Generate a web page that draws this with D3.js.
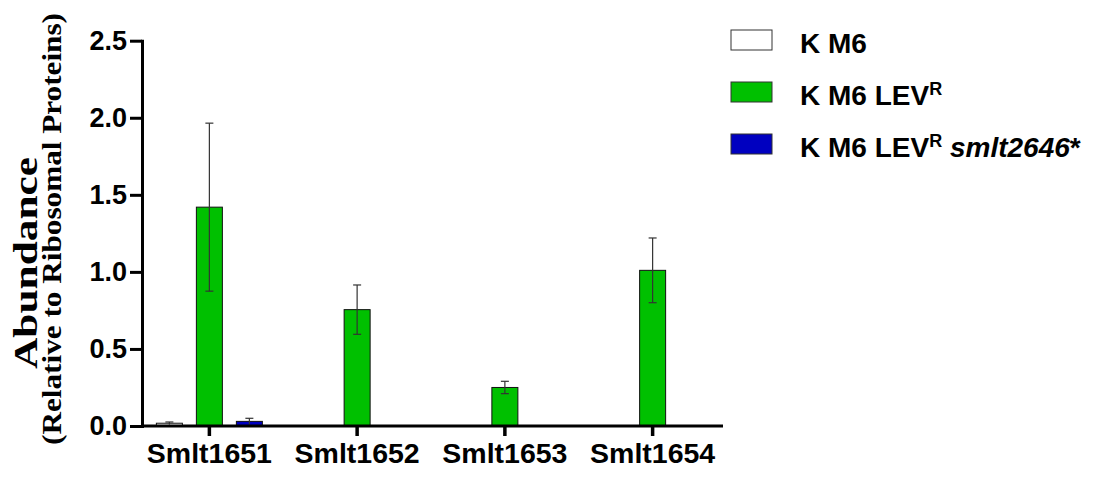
<!DOCTYPE html>
<html>
<head>
<meta charset="utf-8">
<script src="https://cdn.jsdelivr.net/npm/d3@7/dist/d3.min.js"></script>
<style>
  body { margin: 0; background: #fff; }
  svg { display: block; }
</style>
</head>
<body>
<svg id="chart" width="1100" height="477"></svg>
<script>
// ---- data ----
const categories = ["Smlt1651", "Smlt1652", "Smlt1653", "Smlt1654"];
const seriesNames = ["K M6", "K M6 LEVR", "K M6 LEVR smlt2646*"];
const kM6 = [0.018, 0, 0, 0];
const kM6Err = [0.008, 0, 0, 0];
const kM6Lev = [1.42, 0.755, 0.25, 1.01];
const kM6LevErr = [0.545, 0.16, 0.04, 0.21];
const kM6LevSmlt = [0.03, 0, 0, 0];
const kM6LevSmltErr = [0.02, 0, 0, 0];
const yTicks = [0, 0.5, 1.0, 1.5, 2.0, 2.5];
const yTickLabels = ["0.0", "0.5", "1.0", "1.5", "2.0", "2.5"];

const colors = ["#ffffff", "#00c000", "#0000c0"];
const seriesValues = [kM6, kM6Lev, kM6LevSmlt];
const seriesErrors = [kM6Err, kM6LevErr, kM6LevSmltErr];

const svg = d3.select("#chart");

const x = d3.scaleBand().domain(categories).range([135.5, 726.5]).paddingInner(0).paddingOuter(0);
const xs = d3.scaleBand().domain(seriesNames).range([-60, 60]);
const y = d3.scaleLinear().domain([0, 2.5]).range([426, 40.7]);
const barW = 26;

const rows = [];
seriesNames.forEach((s, si) => {
  categories.forEach((c, ci) => {
    rows.push({ s, si, c, v: seriesValues[si][ci], e: seriesErrors[si][ci] });
  });
});
const visible = rows.filter(d => d.v > 0);

// bars
svg.append("g").selectAll("rect").data(visible).join("rect")
  .attr("x", d => x(d.c) + x.bandwidth() / 2 + xs(d.s) + xs.bandwidth() / 2 - barW / 2)
  .attr("y", d => y(d.v))
  .attr("width", barW)
  .attr("height", d => y(0) - y(d.v))
  .attr("fill", d => colors[d.si])
  .attr("stroke", "#111")
  .attr("stroke-width", 1);

// error bars
const cx = d => x(d.c) + x.bandwidth() / 2 + xs(d.s) + xs.bandwidth() / 2;
const eg = svg.append("g").attr("stroke", "#333").attr("stroke-width", 1.2);
eg.selectAll("line.v").data(visible).join("line").attr("class", "v")
  .attr("x1", cx).attr("x2", cx)
  .attr("y1", d => y(d.v + d.e)).attr("y2", d => y(Math.max(0, d.v - d.e)));
eg.selectAll("line.t").data(visible).join("line").attr("class", "t")
  .attr("x1", d => cx(d) - 4).attr("x2", d => cx(d) + 4)
  .attr("y1", d => y(d.v + d.e)).attr("y2", d => y(d.v + d.e));
eg.selectAll("line.b").data(visible.filter(d => d.v - d.e > 0.01)).join("line").attr("class", "b")
  .attr("x1", d => cx(d) - 4).attr("x2", d => cx(d) + 4)
  .attr("y1", d => y(d.v - d.e)).attr("y2", d => y(d.v - d.e));

// y axis
const yAxis = d3.axisLeft(y).tickValues(yTicks)
  .tickFormat((d, i) => yTickLabels[i]).tickSize(12).tickSizeOuter(0).tickPadding(3);
const yg = svg.append("g").attr("transform", "translate(142,0)").call(yAxis);
yg.select(".domain").attr("stroke", "#000").attr("stroke-width", 3).attr("stroke-linecap", "square");
yg.selectAll(".tick line").attr("stroke", "#000").attr("stroke-width", 3);
yg.selectAll(".tick text")
  .attr("fill", "#000")
  .style("font-family", "'Liberation Sans', Arial, sans-serif")
  .style("font-weight", "bold").style("font-size", "27px");

// x axis
const xAxis = d3.axisBottom(x).tickSize(10).tickSizeOuter(0).tickPadding(7);
const xg = svg.append("g").attr("transform", "translate(0,426)").call(xAxis);
xg.select(".domain").remove();
xg.append("line").attr("x1", 142).attr("x2", 723).attr("y1", 0).attr("y2", 0)
  .attr("stroke", "#000").attr("stroke-width", 3);
xg.selectAll(".tick line").attr("stroke", "#000").attr("stroke-width", 3.5);
xg.selectAll(".tick text")
  .attr("fill", "#000")
  .style("font-family", "'Liberation Sans', Arial, sans-serif")
  .style("font-weight", "bold").style("font-size", "28.5px");

// y title
const yt = svg.append("g")
  .style("font-family", "'Liberation Serif', 'Times New Roman', serif")
  .style("font-weight", "bold").attr("fill", "#000");
yt.append("text")
  .attr("transform", "translate(37,263) rotate(-90)")
  .attr("text-anchor", "middle")
  .style("font-size", "33px")
  .attr("textLength", 212).attr("lengthAdjust", "spacingAndGlyphs")
  .text("Abundance");
yt.append("text")
  .attr("transform", "translate(61,229) rotate(-90)")
  .attr("text-anchor", "middle")
  .style("font-size", "28px")
  .attr("textLength", 432).attr("lengthAdjust", "spacingAndGlyphs")
  .text("(Relative to Ribosomal Proteins)");

// legend
const lg = svg.append("g")
  .style("font-family", "'Liberation Sans', Arial, sans-serif")
  .style("font-weight", "bold").attr("fill", "#000");
const legY = [30, 82, 134];
seriesNames.forEach((s, i) => {
  lg.append("rect").attr("x", 731).attr("y", legY[i]).attr("width", 41).attr("height", 20)
    .attr("fill", colors[i]).attr("stroke", "#333").attr("stroke-width", 1);
  const t = lg.append("text").attr("x", 800).attr("y", legY[i] + 23).style("font-size", "28px");
  if (i === 0) {
    t.text("K M6");
  } else {
    t.append("tspan").text("K M6 LEV");
    t.append("tspan").attr("dy", -10).style("font-size", "18px").text("R");
    if (i === 2) {
      t.append("tspan").attr("dy", 10).text(" ");
      t.append("tspan").style("font-style", "italic").text("smlt2646");
      t.append("tspan").text("*");
    }
  }
});
</script>
</body>
</html>
